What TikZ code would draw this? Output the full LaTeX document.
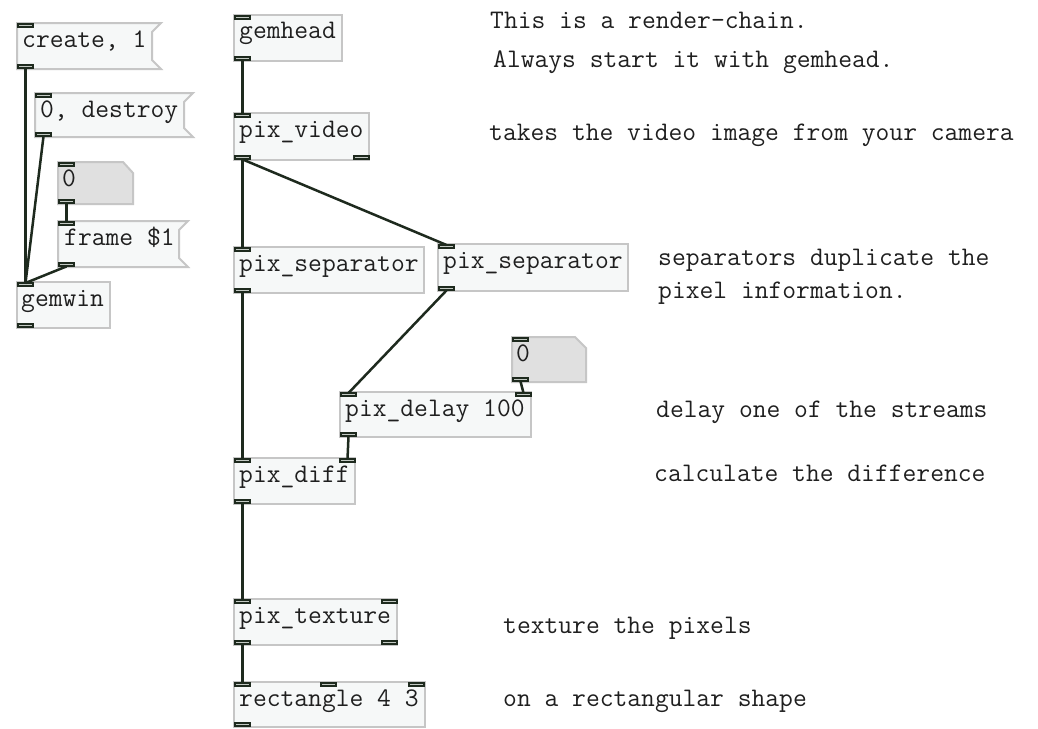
\documentclass[tikz,border=0pt]{standalone}
\usepackage{fontspec}
\newfontfamily\pdfontfam{Latin Modern Mono}
\newcommand\pdfont{\pdfontfam\fontsize{26.8}{30}\selectfont}
\definecolor{wire}{HTML}{1E2A1E}
\definecolor{boxfill}{HTML}{F6F8F8}
\definecolor{boxline}{HTML}{C6C6C6}
\definecolor{atomfill}{HTML}{E0E0E0}
\definecolor{portfill}{HTML}{C4CAC4}
\tikzset{
  pdbox/.style={draw=boxline,fill=boxfill,line width=2pt},
  atombox/.style={draw=boxline,fill=atomfill,line width=2pt},
  port/.style={draw=wire,fill=portfill,line width=2pt,minimum width=15pt,minimum height=3.4pt,inner sep=0pt,outer sep=0pt,anchor=north west},
  conn/.style={draw=wire,line width=2.5pt},
  boxtext/.style={anchor=base west,inner sep=0pt,font=\pdfont,text=black!88},
  comment/.style={anchor=base west,inner sep=0pt,font=\pdfont,text=black!88}
}
\newcommand\pdport[3]{\node[port] (#1) at (#2+1,#3+1) {};}
\begin{document}
\begin{tikzpicture}[x=1pt,y=-1pt]
\useasboundingbox (0,0) rectangle (1038,728);
\fill[white] (0,0) rectangle (1038,728);

% ---------- left group ----------
% message: create, 1
\draw[pdbox] (17,23) -- (161,23) -- (152,32) -- (152,60) -- (161,69) -- (17,69) -- cycle;
\node[boxtext] (t-create) at (22,47) {create, 1};
\pdport{create-i}{17}{23}
\pdport{create-o}{17}{64}
% message: 0, destroy
\draw[pdbox] (35,93) -- (193,93) -- (184,102) -- (184,128) -- (193,137) -- (35,137) -- cycle;
\node[boxtext] (t-destroy) at (40,117) {0, destroy};
\pdport{destroy-i}{35}{93}
\pdport{destroy-o}{35}{132}
% number box
\draw[atombox] (58,162) -- (123,162) -- (133,173) -- (133,204) -- (58,204) -- cycle;
\node[boxtext] (t-num1) at (62,186) {0};
\pdport{num1-i}{58}{162}
\pdport{num1-o}{58}{199}
% message: frame $1
\draw[pdbox] (58,221) -- (188,221) -- (179,230) -- (179,258) -- (188,267) -- (58,267) -- cycle;
\node[boxtext] (t-frame) at (64,245) {frame \$1};
\pdport{frame-i}{58}{221}
\pdport{frame-o}{58}{262}
% gemwin
\draw[pdbox] (17,282) rectangle (110,328);
\node[boxtext] (t-gemwin) at (21,306) {gemwin};
\pdport{gemwin-i}{17}{282}
\pdport{gemwin-o}{17}{323}

% ---------- main chain ----------
\draw[pdbox] (234,15) rectangle (342,61);
\node[boxtext] (t-gemhead) at (239,38) {gemhead};
\pdport{gemhead-i}{234}{15}
\pdport{gemhead-o}{234}{56}

\draw[pdbox] (234,113) rectangle (369,160);
\node[boxtext] (t-video) at (239,137) {pix\_video};
\pdport{video-i}{234}{113}
\pdport{video-o0}{234}{155}
\pdport{video-o1}{353}{155}

\draw[pdbox] (234,247) rectangle (424,293);
\node[boxtext] (t-sepL) at (239,271) {pix\_separator};
\pdport{sepL-i}{234}{247}
\pdport{sepL-o}{234}{288}

\draw[pdbox] (438,244) rectangle (628,291);
\node[boxtext] (t-sepR) at (443,268) {pix\_separator};
\pdport{sepR-i}{438}{244}
\pdport{sepR-o}{438}{286}

\draw[atombox] (512,337) -- (575,337) -- (586,348) -- (586,382) -- (512,382) -- cycle;
\node[boxtext] (t-num2) at (516,361) {0};
\pdport{num2-i}{512}{337}
\pdport{num2-o}{512}{377}

\draw[pdbox] (340,392) rectangle (531,437);
\node[boxtext] (t-delay) at (345,416) {pix\_delay 100};
\pdport{delay-i0}{340}{392}
\pdport{delay-i1}{515}{392}
\pdport{delay-o}{340}{432}

\draw[pdbox] (234,458) rectangle (355,504);
\node[boxtext] (t-diff) at (239,482) {pix\_diff};
\pdport{diff-i0}{234}{458}
\pdport{diff-i1}{339}{458}
\pdport{diff-o}{234}{499}

\draw[pdbox] (234,599) rectangle (397,645);
\node[boxtext] (t-texture) at (239,623) {pix\_texture};
\pdport{texture-i0}{234}{599}
\pdport{texture-i1}{381}{599}
\pdport{texture-o0}{234}{640}
\pdport{texture-o1}{381}{640}

\draw[pdbox] (234,682) rectangle (425,727);
\node[boxtext] (t-rect) at (239,706) {rectangle 4 3};
\pdport{rect-i0}{234}{682}
\pdport{rect-i1}{320}{682}
\pdport{rect-i2}{408}{682}
\pdport{rect-o}{234}{722}

% ---------- connections ----------
\draw[conn] (create-o.south) -- (gemwin-i.north);
\draw[conn] (destroy-o.south) -- (gemwin-i.north);
\draw[conn] (num1-o.south) -- (frame-i.north);
\draw[conn] (frame-o.south) -- (gemwin-i.north);
\draw[conn] (gemhead-o.south) -- (video-i.north);
\draw[conn] (video-o0.south) -- (sepL-i.north);
\draw[conn] (video-o0.south) -- (sepR-i.north);
\draw[conn] (sepL-o.south) -- (diff-i0.north);
\draw[conn] (sepR-o.south) -- (delay-i0.north);
\draw[conn] (num2-o.south) -- (delay-i1.north);
\draw[conn] (delay-o.south) -- (diff-i1.north);
\draw[conn] (diff-o.south) -- (texture-i0.north);
\draw[conn] (texture-o0.south) -- (rect-i0.north);

% ---------- comments ----------
\node[comment] (c1) at (490,28) {This is a render-chain.};
\node[comment] (c2) at (493,67) {Always start it with gemhead.};
\node[comment] (c3) at (489,140) {takes the video image from your camera};
\node[comment] (c4) at (658,265) {separators duplicate the};
\node[comment] (c5) at (658,298) {pixel information.};
\node[comment] (c6) at (656,417) {delay one of the streams};
\node[comment] (c7) at (654,481) {calculate the difference};
\node[comment] (c8) at (503,633) {texture the pixels};
\node[comment] (c9) at (503,706) {on a rectangular shape};
\end{tikzpicture}
\end{document}
